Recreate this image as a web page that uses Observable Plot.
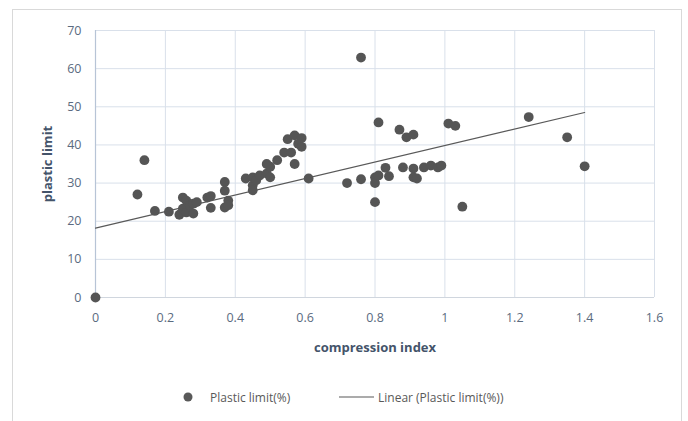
<!DOCTYPE html>
<html>
<head>
<meta charset="utf-8">
<script src="https://cdn.jsdelivr.net/npm/d3@7"></script>
<script src="https://cdn.jsdelivr.net/npm/@observablehq/plot@0.6"></script>
<style>
  html, body { margin: 0; padding: 0; background: #fff; }
  #wrap { position: relative; width: 688px; height: 421px; overflow: hidden; font-family: "Open Sans", "Liberation Sans", sans-serif; }
  #frame { position: absolute; left: 12px; top: 9px; width: 670px; height: 430px; border: 1px solid #d9d9d9; box-sizing: border-box; }
  #chart { position: absolute; left: 0; top: 0; }
  #legend { position: absolute; top: 387px; left: 0; width: 688px; height: 20px; font-size: 12px; color: #595959; }
  #legend .item { position: absolute; top: 0; display: flex; align-items: center; height: 20px; white-space: nowrap; }
</style>
</head>
<body>
<div id="wrap">
  <div id="frame"></div>
  <div id="chart"></div>
  <div id="legend">
    <div class="item" style="left:183px"><svg width="12" height="12" style="margin-right:15px"><circle cx="5" cy="6" r="4.5" fill="#595959"/></svg><span>Plastic limit(%)</span></div>
    <div class="item" style="left:339px"><svg width="36" height="12" style="margin-right:3px"><line x1="0" y1="6" x2="35" y2="6" stroke="#595959" stroke-width="1.2"/></svg><span>Linear (Plastic limit(%))</span></div>
  </div>
</div>
<script>
const compressionIndex = [
  0, 0.12, 0.14, 0.17, 0.21, 0.24, 0.25, 0.25, 0.26, 0.26, 0.27, 0.28, 0.28, 0.29,
  0.32, 0.33, 0.33, 0.37, 0.37, 0.37, 0.38, 0.38,
  0.43, 0.45, 0.45, 0.45, 0.46, 0.47, 0.49, 0.49, 0.50, 0.50, 0.52, 0.54,
  0.55, 0.57, 0.59, 0.58, 0.59, 0.56, 0.57, 0.61,
  0.72, 0.76, 0.76, 0.80, 0.80, 0.80, 0.81, 0.81, 0.83, 0.84, 0.87, 0.88, 0.89,
  0.91, 0.91, 0.91, 0.92, 0.94, 0.96, 0.98, 0.99, 1.01, 1.03, 1.05,
  1.24, 1.35, 1.40
];
const plasticLimit = [
  0, 27, 36, 22.7, 22.5, 21.7, 26.2, 23.3, 25.4, 22.3, 24.1, 24.6, 22, 25,
  26.2, 23.5, 26.6, 30.3, 28, 23.6, 25.4, 24.2,
  31.2, 31.5, 29.4, 28.1, 30.7, 32, 32.5, 35, 34.3, 31.5, 36, 38,
  41.5, 42.5, 41.8, 40.3, 39.5, 38, 35, 31.2,
  30, 31, 62.9, 31.5, 30, 25, 32, 45.9, 34, 31.8, 44, 34.1, 42,
  42.7, 33.8, 31.5, 31.2, 34.1, 34.6, 34.1, 34.6, 45.6, 45, 23.8,
  47.3, 42, 34.4
];
const trendX = [0, 1.4];
const trendY = [18.2, 48.5];
const xTicks = [0, 0.2, 0.4, 0.6, 0.8, 1, 1.2, 1.4, 1.6];
const yTicks = [0, 10, 20, 30, 40, 50, 60, 70];

const points = compressionIndex.map((x, i) => ({x, y: plasticLimit[i]}));
const trend = trendX.map((x, i) => ({x, y: trendY[i]}));

const chart = Plot.plot({
  width: 688,
  height: 370,
  marginLeft: 95,
  marginRight: 34,
  marginTop: 30,
  marginBottom: 73,
  style: { fontFamily: "'Open Sans', 'Liberation Sans', sans-serif", fontSize: "12px", color: "#595959", background: "transparent" },
  x: { domain: [0, 1.6], ticks: xTicks, tickFormat: d => String(d), label: null },
  y: { domain: [0, 70], ticks: yTicks, tickFormat: d => String(d), label: null },
  marks: [
    Plot.gridX(xTicks, { stroke: "#d9e0ea", strokeOpacity: 1 }),
    Plot.gridY(yTicks, { stroke: "#d9e0ea", strokeOpacity: 1 }),
    Plot.ruleX([0], { stroke: "#b7c4d6", strokeWidth: 1.2 }),
    Plot.ruleY([0], { stroke: "#d0d6de" }),
    Plot.axisX(xTicks, { tickSize: 0, tickPadding: 16, tickFormat: d => String(d), fill: "#5b6b80", fontSize: 12.5, label: null }),
    Plot.axisY(yTicks, { tickSize: 0, tickPadding: 14, tickFormat: d => String(d), fill: "#5b6b80", fontSize: 12.5, label: null }),
    Plot.text(["compression index"], { frameAnchor: "bottom", dy: 54, fontWeight: "bold", fontSize: 13, fill: "#44546a" }),
    Plot.text(["plastic limit"], { frameAnchor: "left", textAnchor: "middle", dx: -48, rotate: -90, fontWeight: "bold", fontSize: 13, fill: "#44546a" }),
    Plot.line(trend, { x: "x", y: "y", stroke: "#595959", strokeWidth: 1.2 }),
    Plot.dot(points, { x: "x", y: "y", r: 4.9, fill: "#555555", stroke: "none" })
  ]
});
document.getElementById("chart").appendChild(chart);
</script>
</body>
</html>
